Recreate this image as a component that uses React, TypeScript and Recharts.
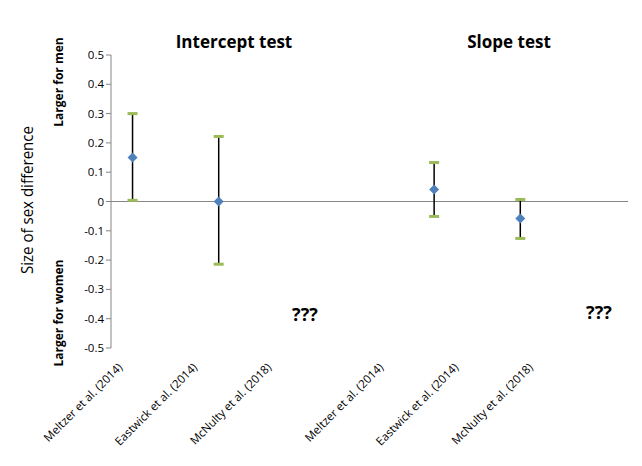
import { ComposedChart, Scatter, ErrorBar, XAxis, YAxis, ReferenceLine } from 'recharts'

// estimates and 95% CI bounds
const studies = ['Meltzer et al. (2014)', 'Eastwick et al. (2014)', 'Meltzer et al. (2014)', 'Eastwick et al. (2014)']
const studySlot = [0.5, 2.5, 7.5, 9.5]
const estimate = [0.15, 0.0, 0.041, -0.058]
const lower = [0.004, -0.214, -0.051, -0.126]
const upper = [0.3, 0.222, 0.133, 0.007]

// x-axis labels (they sit on their own even spacing, not under the points)
const tickLabels = [
  'Meltzer et al. (2014)',
  'Eastwick et al. (2014)',
  'McNulty et al. (2018)',
  'Meltzer et al. (2014)',
  'Eastwick et al. (2014)',
  'McNulty et al. (2018)',
]
const tickSlots = [0.28, 2.02, 3.74, 6.34, 8.08, 9.81]
const yTicks = [0.5, 0.4, 0.3, 0.2, 0.1, 0, -0.1, -0.2, -0.3, -0.4, -0.5]

const points = studies.map((name, i) => ({
  name,
  x: studySlot[i],
  y: estimate[i],
  err: [estimate[i] - lower[i], upper[i] - estimate[i]],
}))
const caps = studies.flatMap((name, i) => [
  { name, x: studySlot[i], y: upper[i] },
  { name, x: studySlot[i], y: lower[i] },
])

const FONT = '"Open Sans", "Noto Sans", sans-serif'
const AXIS_GRAY = '#868686'

const Diamond = (props: any) => {
  const { cx, cy } = props
  const r = 5
  return <path d={`M${cx},${cy - r}L${cx + r},${cy}L${cx},${cy + r}L${cx - r},${cy}Z`} fill="#4F81BD" />
}

const Cap = (props: any) => {
  const { cx, cy } = props
  return <rect x={cx - 5} y={cy - 1.5} width={10} height={3} fill="#9BBB59" />
}

const NoMark = () => <g />

const StudyTick = (props: any) => {
  const { x, y, payload } = props
  const i = tickSlots.indexOf(payload.value)
  const ty = y + 12
  return (
    <text x={x} y={ty} transform={`rotate(-45, ${x}, ${ty})`} textAnchor="end" fontSize={11.5} fill="#000" fontFamily={FONT}>
      {tickLabels[i]}
    </text>
  )
}

export default function App() {
  return (
    <div style={{ position: 'absolute', left: 0, top: 0, width: 642, height: 466, background: '#fff' }}>
      <ComposedChart width={642} height={466} margin={{ top: 55, right: 14, bottom: 88, left: 71 }}>
        <XAxis
          type="number"
          dataKey="x"
          domain={[0, 12]}
          ticks={tickSlots}
          axisLine={false}
          tickLine={false}
          tick={<StudyTick />}
          height={30}
          allowDataOverflow
        />
        <YAxis
          type="number"
          dataKey="y"
          domain={[-0.5, 0.5]}
          ticks={yTicks}
          interval={0}
          width={40}
          axisLine={{ stroke: AXIS_GRAY }}
          tickLine={{ stroke: AXIS_GRAY }}
          tickSize={5}
          tick={{ fontSize: 11.5, fill: '#000', fontFamily: FONT }}
          tickFormatter={(v: number) => String(Number(v.toFixed(1)) || 0)}
        />
        <ReferenceLine y={0} stroke={AXIS_GRAY} strokeWidth={1} />
        <Scatter data={points} shape={<NoMark />} isAnimationActive={false}>
          <ErrorBar dataKey="err" direction="y" width={0} stroke="#000" strokeWidth={1.5} />
        </Scatter>
        <Scatter data={caps} shape={<Cap />} isAnimationActive={false} />
        <Scatter data={points} shape={<Diamond />} isAnimationActive={false} />
      </ComposedChart>
      <svg width={642} height={466} style={{ position: 'absolute', left: 0, top: 0, pointerEvents: 'none' }} fontFamily={FONT}>
        <text x={234} y={48} textAnchor="middle" fontSize={17} fontWeight="bold">Intercept test</text>
        <text x={509} y={48} textAnchor="middle" fontSize={17} fontWeight="bold">Slope test</text>
        <text x={305} y={321} textAnchor="middle" fontSize={18} fontWeight="bold">???</text>
        <text x={599} y={319} textAnchor="middle" fontSize={18} fontWeight="bold">???</text>
        <text
          x={27}
          y={200}
          transform="rotate(-90, 27, 200)"
          textAnchor="middle"
          dominantBaseline="central"
          fontSize={16}
          textLength={148}
          lengthAdjust="spacingAndGlyphs"
        >
          Size of sex difference
        </text>
        <text x={58} y={82} transform="rotate(-90, 58, 82)" textAnchor="middle" dominantBaseline="central" fontSize={12} fontWeight="bold">
          Larger for men
        </text>
        <text x={58} y={313} transform="rotate(-90, 58, 313)" textAnchor="middle" dominantBaseline="central" fontSize={12} fontWeight="bold">
          Larger for women
        </text>
      </svg>
    </div>
  )
}
